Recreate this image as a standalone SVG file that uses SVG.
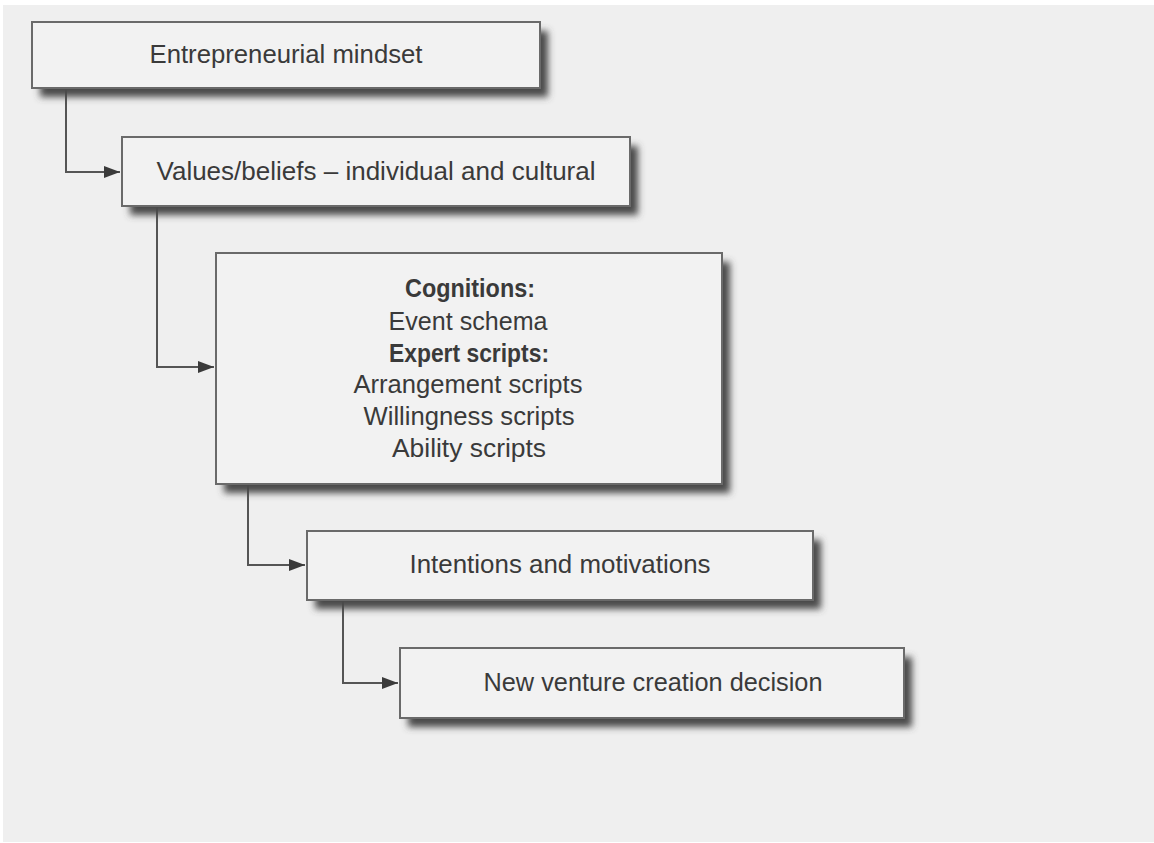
<svg xmlns="http://www.w3.org/2000/svg" width="1154" height="843" viewBox="0 0 1154 843">
<style>
.box{fill:#f2f2f2;stroke:#6a6a6a;stroke-width:2}
.sh{fill:#4a4a4a;filter:url(#blur)}
.t{font-family:"Liberation Sans Narrow","Liberation Sans",Arial,sans-serif;font-size:26px;fill:#3a3a3a;text-anchor:middle}
.b{font-weight:bold}
.c{fill:none;stroke:#555;stroke-width:2}
</style>
<defs>
<filter id="blur" x="-10%" y="-40%" width="120%" height="180%"><feGaussianBlur stdDeviation="3.5"/></filter>
<marker id="ar" viewBox="0 0 16 12" refX="16" refY="6" markerWidth="16" markerHeight="12" markerUnits="userSpaceOnUse" orient="auto"><path d="M0,0 L16,6 L0,12 z" fill="#3a3a3a"/></marker>
</defs>
<rect x="0" y="0" width="1154" height="843" fill="#ffffff"/>
<rect x="3" y="5" width="1151" height="837" fill="#efefef"/>
<g id="connectors">
<path class="c" d="M66,88 V172 H120" marker-end="url(#ar)"/>
<path class="c" d="M157,206 V367 H214" marker-end="url(#ar)"/>
<path class="c" d="M248,484 V565 H305" marker-end="url(#ar)"/>
<path class="c" d="M343,600 V683 H398" marker-end="url(#ar)"/>
</g>
<g id="n1">
<rect class="sh" x="40" y="31" width="508" height="66"/>
<rect class="box" x="32" y="22" width="508" height="66"/>
<text class="t" x="286" y="63" textLength="273" lengthAdjust="spacingAndGlyphs">Entrepreneurial mindset</text>
</g>
<g id="n2">
<rect class="sh" x="130" y="146" width="508" height="69"/>
<rect class="box" x="122" y="137" width="508" height="69"/>
<text class="t" x="376" y="180" textLength="439" lengthAdjust="spacingAndGlyphs">Values/beliefs – individual and cultural</text>
</g>
<g id="n3">
<rect class="sh" x="224" y="262" width="506" height="231"/>
<rect class="box" x="216" y="253" width="506" height="231"/>
<text class="t b" x="470" y="297" textLength="130" lengthAdjust="spacingAndGlyphs">Cognitions:</text>
<text class="t" x="468" y="330" textLength="159" lengthAdjust="spacingAndGlyphs">Event schema</text>
<text class="t b" x="469" y="362" textLength="160" lengthAdjust="spacingAndGlyphs">Expert scripts:</text>
<text class="t" x="468" y="393" textLength="229" lengthAdjust="spacingAndGlyphs">Arrangement scripts</text>
<text class="t" x="469" y="425" textLength="211" lengthAdjust="spacingAndGlyphs">Willingness scripts</text>
<text class="t" x="469" y="457" textLength="154" lengthAdjust="spacingAndGlyphs">Ability scripts</text>
</g>
<g id="n4">
<rect class="sh" x="315" y="540" width="506" height="69"/>
<rect class="box" x="307" y="531" width="506" height="69"/>
<text class="t" x="560" y="573" textLength="301" lengthAdjust="spacingAndGlyphs">Intentions and motivations</text>
</g>
<g id="n5">
<rect class="sh" x="408" y="657" width="504" height="70"/>
<rect class="box" x="400" y="648" width="504" height="70"/>
<text class="t" x="653" y="691" textLength="339" lengthAdjust="spacingAndGlyphs">New venture creation decision</text>
</g>
</svg>
